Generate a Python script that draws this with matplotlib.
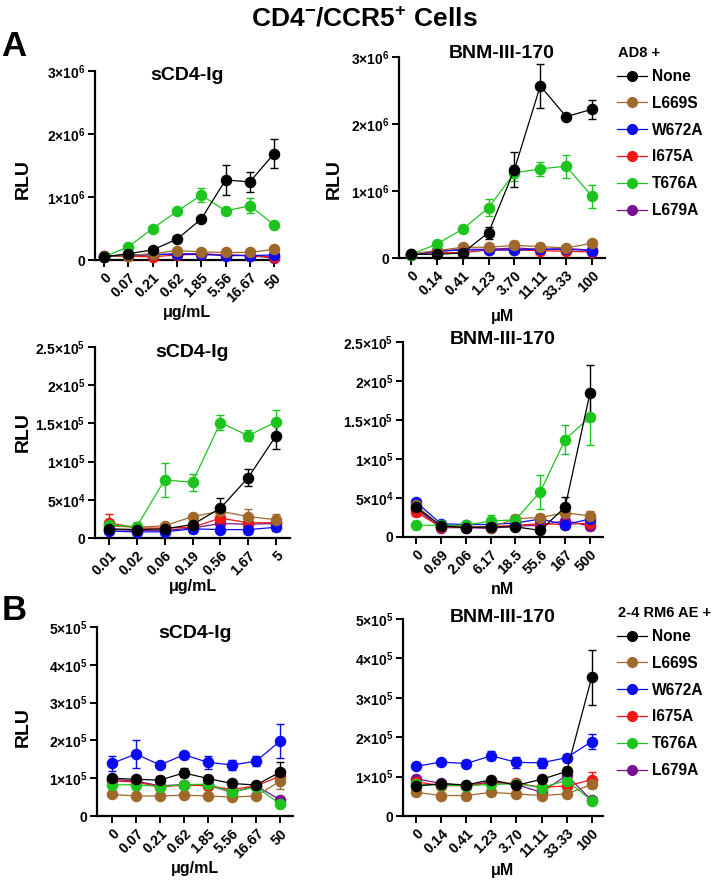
import numpy as np
import matplotlib
matplotlib.use("Agg")
import matplotlib.pyplot as plt
from matplotlib.ticker import FuncFormatter
from matplotlib.lines import Line2D

plt.rcParams['font.family'] = ['Liberation Sans', 'DejaVu Sans']
plt.rcParams['font.weight'] = 'bold'
plt.rcParams['mathtext.default'] = 'regular'

W, H = 720, 882

variants = ['None', 'L669S', 'W672A', 'I675A', 'T676A', 'L679A']
colors = {'None': '#000000', 'L669S': '#A0692B', 'W672A': '#0A0AF5',
          'I675A': '#F51515', 'T676A': '#1EC41E', 'L679A': '#7A0F8F'}
draw_order = ['L679A', 'I675A', 'W672A', 'L669S', 'T676A', 'None']

conc_ug_hi = ['0', '0.07', '0.21', '0.62', '1.85', '5.56', '16.67', '50']
conc_um = ['0', '0.14', '0.41', '1.23', '3.70', '11.11', '33.33', '100']
conc_ug_lo = ['0.01', '0.02', '0.06', '0.19', '0.56', '1.67', '5']
conc_nm = ['0', '0.69', '2.06', '6.17', '18.5', '55.6', '167', '500']

# Panel A top-left: sCD4-Ig, AD8 (x1e6)
a1_mean = {
    'None':  [0.05, 0.10, 0.16, 0.33, 0.65, 1.27, 1.24, 1.69],
    'L669S': [0.06, 0.07, 0.10, 0.15, 0.13, 0.12, 0.12, 0.17],
    'W672A': [0.06, 0.08, 0.09, 0.09, 0.09, 0.07, 0.07, 0.08],
    'I675A': [0.07, 0.06, 0.05, 0.08, 0.09, 0.08, 0.07, 0.05],
    'T676A': [0.05, 0.21, 0.50, 0.77, 1.03, 0.78, 0.86, 0.56],
    'L679A': [0.05, 0.07, 0.08, 0.10, 0.10, 0.08, 0.07, 0.03],
}
a1_err = {
    'None':  [0.01, 0.01, 0.02, 0.05, 0.05, 0.24, 0.16, 0.235],
    'L669S': [0.0, 0.01, 0.01, 0.02, 0.02, 0.01, 0.01, 0.02],
    'W672A': [0.0, 0.01, 0.01, 0.01, 0.01, 0.01, 0.01, 0.01],
    'I675A': [0.0, 0.01, 0.01, 0.01, 0.01, 0.01, 0.01, 0.01],
    'T676A': [0.01, 0.02, 0.02, 0.04, 0.11, 0.02, 0.12, 0.02],
    'L679A': [0.0, 0.01, 0.01, 0.01, 0.01, 0.01, 0.01, 0.01],
}

# Panel A top-right: BNM-III-170, AD8 (x1e6)
a2_mean = {
    'None':  [0.055, 0.055, 0.075, 0.38, 1.32, 2.57, 2.11, 2.22],
    'L669S': [0.06, 0.11, 0.16, 0.16, 0.19, 0.17, 0.15, 0.22],
    'W672A': [0.04, 0.10, 0.12, 0.12, 0.12, 0.13, 0.13, 0.11],
    'I675A': [0.06, 0.08, 0.08, 0.12, 0.12, 0.11, 0.10, 0.09],
    'T676A': [0.05, 0.21, 0.43, 0.75, 1.27, 1.33, 1.37, 0.92],
    'L679A': [0.05, 0.10, 0.13, 0.13, 0.15, 0.13, 0.14, 0.12],
}
a2_err = {
    'None':  [0.01, 0.01, 0.01, 0.09, 0.26, 0.33, 0.0, 0.145],
    'L669S': [0.01, 0.01, 0.01, 0.02, 0.06, 0.02, 0.02, 0.02],
    'W672A': [0.01, 0.01, 0.01, 0.01, 0.01, 0.01, 0.01, 0.02],
    'I675A': [0.01, 0.01, 0.01, 0.01, 0.01, 0.01, 0.01, 0.01],
    'T676A': [0.01, 0.02, 0.02, 0.13, 0.12, 0.11, 0.17, 0.17],
    'L679A': [0.01, 0.01, 0.01, 0.01, 0.02, 0.01, 0.01, 0.01],
}

# Panel A middle-left: sCD4-Ig low range (x1e4)
a3_mean = {
    'None':  [1.2, 1.1, 1.2, 1.75, 3.9, 7.9, 13.4],
    'L669S': [1.6, 1.4, 1.6, 2.8, 3.5, 2.8, 2.4],
    'W672A': [0.9, 0.8, 0.8, 1.2, 1.1, 1.1, 1.4],
    'I675A': [2.0, 1.3, 1.3, 1.4, 2.6, 2.0, 2.0],
    'T676A': [1.7, 1.5, 7.6, 7.3, 15.1, 13.4, 15.2],
    'L679A': [1.1, 1.0, 1.0, 1.3, 1.9, 1.8, 1.9],
}
a3_err = {
    'None':  [0.2, 0.2, 0.2, 0.3, 1.3, 1.1, 1.7],
    'L669S': [0.2, 0.2, 0.2, 0.3, 0.5, 1.0, 0.8],
    'W672A': [0.2, 0.1, 0.1, 0.5, 0.3, 0.6, 0.4],
    'I675A': [1.1, 0.2, 0.2, 0.3, 0.6, 0.3, 0.3],
    'T676A': [0.2, 0.6, 2.2, 1.1, 1.0, 0.7, 1.5],
    'L679A': [0.2, 0.2, 0.2, 0.3, 0.5, 0.4, 1.0],
}

# Panel A middle-right: BNM-III-170 nM (x1e4)
a4_mean = {
    'None':  [3.8, 1.45, 1.2, 1.3, 1.3, 0.85, 3.85, 18.5],
    'L669S': [4.1, 1.4, 1.3, 1.2, 2.35, 2.5, 3.1, 2.7],
    'W672A': [4.5, 1.7, 1.6, 1.6, 1.8, 2.3, 1.6, 2.3],
    'I675A': [3.2, 1.3, 1.3, 1.3, 1.5, 1.7, 1.6, 1.8],
    'T676A': [1.5, 1.5, 1.5, 2.05, 2.2, 5.8, 12.5, 15.4],
    'L679A': [3.6, 1.2, 1.2, 1.1, 1.4, 1.5, 2.1, 1.4],
}
a4_err = {
    'None':  [0.3, 0.2, 0.2, 0.2, 0.2, 0.2, 1.3, 3.6],
    'L669S': [0.3, 0.2, 0.2, 0.2, 0.5, 0.5, 0.6, 0.6],
    'W672A': [0.3, 0.2, 0.2, 0.2, 0.3, 0.4, 0.5, 0.8],
    'I675A': [0.5, 0.2, 0.2, 0.2, 0.2, 0.3, 0.5, 0.8],
    'T676A': [0.5, 0.2, 0.2, 0.8, 0.3, 2.2, 1.9, 3.6],
    'L679A': [0.3, 0.2, 0.2, 0.2, 0.2, 0.3, 0.4, 0.5],
}

# Panel B left: sCD4-Ig, 2-4 RM6 AE (x1e5)
b1_mean = {
    'None':  [1.00, 0.97, 0.95, 1.14, 0.99, 0.86, 0.82, 1.16],
    'L669S': [0.57, 0.53, 0.53, 0.55, 0.53, 0.50, 0.53, 0.92],
    'W672A': [1.39, 1.64, 1.35, 1.62, 1.42, 1.35, 1.45, 1.98],
    'I675A': [0.93, 0.90, 0.77, 0.82, 0.80, 0.70, 0.80, 1.05],
    'T676A': [0.82, 0.83, 0.78, 0.83, 0.84, 0.63, 0.77, 0.32],
    'L679A': [0.97, 0.92, 0.80, 0.83, 0.82, 0.62, 0.80, 0.43],
}
b1_err = {
    'None':  [0.07, 0.08, 0.10, 0.12, 0.08, 0.04, 0.04, 0.27],
    'L669S': [0.03, 0.03, 0.03, 0.03, 0.03, 0.03, 0.03, 0.20],
    'W672A': [0.20, 0.36, 0.05, 0.04, 0.18, 0.14, 0.14, 0.45],
    'I675A': [0.06, 0.06, 0.05, 0.05, 0.05, 0.05, 0.05, 0.10],
    'T676A': [0.06, 0.15, 0.05, 0.05, 0.05, 0.05, 0.05, 0.04],
    'L679A': [0.05, 0.05, 0.05, 0.05, 0.05, 0.05, 0.05, 0.04],
}

# Panel B right: BNM-III-170, 2-4 RM6 AE (x1e5)
b2_mean = {
    'None':  [0.76, 0.82, 0.79, 0.92, 0.78, 0.93, 1.13, 3.52],
    'L669S': [0.60, 0.52, 0.52, 0.60, 0.56, 0.52, 0.56, 0.80],
    'W672A': [1.26, 1.37, 1.33, 1.53, 1.36, 1.35, 1.48, 1.89],
    'I675A': [0.87, 0.77, 0.77, 0.84, 0.83, 0.73, 0.76, 0.92],
    'T676A': [0.80, 0.78, 0.77, 0.80, 0.82, 0.72, 0.90, 0.39],
    'L679A': [0.94, 0.83, 0.77, 0.87, 0.80, 0.60, 1.03, 0.40],
}
b2_err = {
    'None':  [0.05, 0.08, 0.05, 0.05, 0.05, 0.05, 0.12, 0.70],
    'L669S': [0.03, 0.03, 0.03, 0.03, 0.03, 0.03, 0.03, 0.10],
    'W672A': [0.04, 0.04, 0.08, 0.12, 0.15, 0.12, 0.10, 0.18],
    'I675A': [0.05, 0.05, 0.05, 0.05, 0.05, 0.05, 0.05, 0.20],
    'T676A': [0.05, 0.05, 0.05, 0.05, 0.05, 0.05, 0.10, 0.04],
    'L679A': [0.05, 0.05, 0.05, 0.05, 0.05, 0.05, 0.10, 0.04],
}


def sci_fmt(v, pos):
    if abs(v) < 1e-9:
        return '0'
    if v < 0:
        return ''
    e = int(np.floor(np.log10(v) + 1e-9))
    m = v / 10 ** e
    ms = f'{m:.1f}'.rstrip('0').rstrip('.')
    return f'{ms}×10$^{{{e}}}$'


fig = plt.figure(figsize=(W / 100, H / 100), dpi=100)


def add_ax(left, top, right, bottom):
    return fig.add_axes([left / W, 1 - bottom / H, (right - left) / W, (bottom - top) / H])


def panel(box, xlim, labels, means, errs, scale, ymax, ystep, title, title_y, xlabel, xlabel_y, rlu=None):
    ax = add_ax(*box)
    x = np.arange(len(labels))
    for v in draw_order:
        y = np.array(means[v]) * scale
        e = np.array(errs[v]) * scale
        ax.errorbar(x, y, yerr=e, color=colors[v], marker='o', ms=7.3, lw=0.9,
                    elinewidth=1.0, capsize=3.2, capthick=1.0, ecolor=colors[v],
                    clip_on=False, zorder=3)
    ax.set_xlim(*xlim)
    ax.set_ylim(0, ymax)
    ax.set_yticks(np.arange(0, ymax + ystep / 2, ystep))
    ax.yaxis.set_major_formatter(FuncFormatter(sci_fmt))
    ax.set_xticks(x)
    ax.set_xticklabels(labels, rotation=45, ha='right', rotation_mode='anchor')
    for s in ['top', 'right']:
        ax.spines[s].set_visible(False)
    for s in ['left', 'bottom']:
        ax.spines[s].set_linewidth(1.6)
    ax.tick_params(axis='y', width=1.4, length=5, labelsize=10, pad=2)
    ax.tick_params(axis='x', width=1.4, length=5, labelsize=10.3, pad=2.5)
    cx = (box[0] + box[2]) / 2
    fig.text(cx / W, 1 - title_y / H, title, ha='center', va='center', fontsize=14, fontweight='bold')
    fig.text(cx / W, 1 - xlabel_y / H, xlabel, ha='center', va='center', fontsize=11.5, fontweight='bold')
    if rlu is not None:
        fig.text(rlu[0] / W, 1 - rlu[1] / H, 'RLU', rotation=90, ha='center', va='center',
                 fontsize=14, fontweight='bold')
    return ax


ax1 = panel((95, 71, 279, 260), (-0.37, 7.2), conc_ug_hi, a1_mean, a1_err, 1e6, 3e6, 1e6,
            'sCD4-Ig', 76, 'μg/mL', 313, rlu=(23, 179))
ax2 = panel((399, 57, 605, 258), (-0.46, 7.5), conc_um, a2_mean, a2_err, 1e6, 3e6, 1e6,
            'BNM-III-170', 54, 'μM', 316, rlu=(334, 179))
ax3 = panel((95, 347, 290, 538), (-0.5, 6.5), conc_ug_lo, a3_mean, a3_err, 1e4, 2.5e5, 5e4,
            'sCD4-Ig', 352, 'μg/mL', 587, rlu=(23, 432))
ax4 = panel((403, 342, 603, 537), (-0.52, 7.52), conc_nm, a4_mean, a4_err, 1e4, 2.5e5, 5e4,
            'BNM-III-170', 340, 'nM', 590)
ax5 = panel((97, 627, 293, 816), (-0.62, 7.54), conc_ug_hi, b1_mean, b1_err, 1e5, 5e5, 1e5,
            'sCD4-Ig', 633, 'μg/mL', 869, rlu=(23, 727))
ax6 = panel((403, 619, 603, 816), (-0.52, 7.45), conc_um, b2_mean, b2_err, 1e5, 5e5, 1e5,
            'BNM-III-170', 617, 'μM', 871)

# legends: header as text, entries via ax.legend
for ax, head, head_y, first_y in [(ax2, 'AD8 +', 53, 75), (ax6, '2-4 RM6 AE +', 613, 635)]:
    fig.text(618 / W, 1 - head_y / H, head, ha='left', va='center', fontsize=10.5, fontweight='bold')
    handles = [Line2D([], [], color=colors[v], marker='o', ms=7, lw=0.9) for v in variants]
    leg = ax.legend(handles, variants, loc='upper left',
                    bbox_to_anchor=(617 / W, 1 - (first_y - 6) / H), bbox_transform=fig.transFigure,
                    frameon=False, fontsize=11.2,
                    handlelength=1.9, handletextpad=0.35, labelspacing=0.76, borderpad=0.0,
                    borderaxespad=0.0)
    for t in leg.get_texts():
        t.set_fontweight('bold')

fig.text(364 / W, 1 - 19 / H, 'CD4$^{-}$/CCR5$^{+}$ Cells', ha='center', va='center',
         fontsize=19, fontweight='bold')
fig.text(14 / W, 1 - 46 / H, 'A', ha='center', va='center', fontsize=25, fontweight='bold')
fig.text(14 / W, 1 - 611 / H, 'B', ha='center', va='center', fontsize=25, fontweight='bold')

fig.savefig('out.png', dpi=100)
